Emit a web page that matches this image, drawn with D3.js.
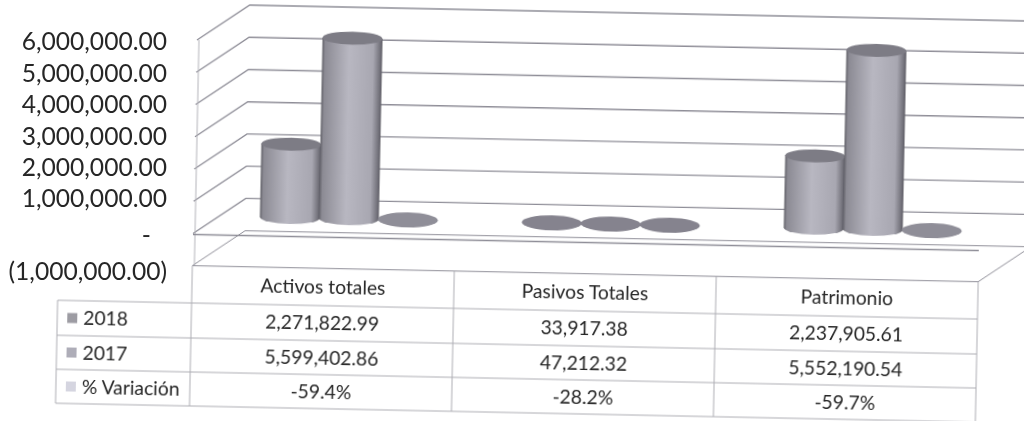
<!DOCTYPE html>
<html lang="en">
<head>
    <meta charset="UTF-8">
    <title>Activos, pasivos y patrimonio</title>
    <script src="https://d3js.org/d3.v7.min.js"></script>
    <style>
        html, body { margin: 0; padding: 0; background: #fff; overflow: hidden; }
        text { font-family: Lato, "Open Sans", sans-serif; fill: #262626; }
    </style>
</head>
<body>
    <div id="chart"></div>
    <script>
        // Chart data
        var categories = ["Activos totales", "Pasivos Totales", "Patrimonio"];
        var seriesNames = ["2018", "2017", "% Variación"];
        var values2018 = [2271822.99, 33917.38, 2237905.61];
        var values2017 = [5599402.86, 47212.32, 5552190.54];
        var variation = [-0.594, -0.282, -0.597];
        var axisTicks = [-1000000, 0, 1000000, 2000000, 3000000, 4000000, 5000000, 6000000];
        var swatchColors = ["#9d9ca3", "#aeadb8", "#d5d5e0"];

        var width = 1024, height = 421;
        var depthX = 52, depthY = -36;   // offset of the back wall

        var svg = d3.select("#chart").append("svg")
            .attr("width", width)
            .attr("height", height)
            .style("display", "block");

        var defs = svg.append("defs");
        defs.append("filter").attr("id", "scan")
            .append("feGaussianBlur").attr("stdDeviation", 0.45);

        var grad = defs.append("linearGradient").attr("id", "cyl");
        [[0, "#63626a"], [0.05, "#8c8b94"], [0.45, "#b8b7c1"], [0.85, "#a8a7b1"], [0.96, "#75747d"], [1, "#5c5b64"]]
            .forEach(function(s) {
                grad.append("stop").attr("offset", s[0]).attr("stop-color", s[1]);
            });

        // The scan is slightly tilted, the whole plot sits in a rotated group
        var plot = svg.append("g")
            .attr("filter", "url(#scan)")
            .attr("transform", "rotate(1.17,193,234)");

        var y = d3.scaleLinear().domain([-1000000, 6000000]).range([265.7, 40]);
        var x0 = d3.scaleBand().domain(categories).range([193, 979]);
        var x1 = d3.scaleBand().domain(seriesNames).range([-90, 87]);

        var lineColor = "#8f8e98";

        // Back wall gridlines, side wall and the zero plane
        axisTicks.forEach(function(t) {
            plot.append("path")
                .attr("d", d3.line()([
                    [x0.range()[0], y(t)],
                    [x0.range()[0] + depthX, y(t) + depthY],
                    [x0.range()[1] + depthX, y(t) + depthY]
                ]))
                .attr("fill", "none")
                .attr("stroke", lineColor)
                .attr("stroke-width", t === -1000000 ? 1 : 1.3);
        });
        plot.append("line")
            .attr("x1", x0.range()[0] + 2).attr("x2", x0.range()[0] + 2)
            .attr("y1", y(6000000)).attr("y2", y(-1000000))
            .attr("stroke", "#b4b4ba").attr("stroke-width", 1);
        plot.append("line")
            .attr("x1", x0.range()[0]).attr("x2", x0.range()[1])
            .attr("y1", y(0) + 1).attr("y2", y(0) + 1)
            .attr("stroke", lineColor).attr("stroke-width", 1.5);
        plot.append("line")
            .attr("x1", x0.range()[1]).attr("x2", x0.range()[1] + depthX)
            .attr("y1", y(-1000000)).attr("y2", y(-1000000) + depthY)
            .attr("stroke", lineColor).attr("stroke-width", 1);

        // Cylinders
        var rx = 30, ry = 6.5;
        var rows = [values2018, values2017, variation];
        var marks = [];
        categories.forEach(function(c, i) {
            seriesNames.forEach(function(s, j) {
                marks.push({category: c, series: s, value: rows[j][i]});
            });
        });

        var cyl = plot.selectAll("g.cyl").data(marks).enter().append("g")
            .attr("class", "cyl")
            .attr("transform", function(d) {
                var cx = x0(d.category) + x0.bandwidth() / 2 + depthX / 2 + x1(d.series) + x1.bandwidth() / 2;
                return "translate(" + cx + "," + (depthY / 2) + ")";
            });

        // Values close to zero only show as a flat disc
        function isFlat(d) { return y(0) - y(d.value) < 4; }

        cyl.filter(function(d) { return !isFlat(d); }).append("path")
            .attr("d", function(d) {
                return "M" + (-rx) + "," + y(d.value) +
                    "L" + (-rx) + "," + y(0) +
                    "A" + rx + "," + ry + " 0 0 0 " + rx + "," + y(0) +
                    "L" + rx + "," + y(d.value) + "Z";
            })
            .attr("fill", "url(#cyl)");

        cyl.append("ellipse")
            .attr("cx", 0)
            .attr("cy", function(d) { return isFlat(d) ? y(0) : y(d.value); })
            .attr("rx", rx)
            .attr("ry", function(d) { return isFlat(d) ? 7.5 : ry; })
            .attr("fill", function(d) {
                if (!isFlat(d)) return "#7d7c85";
                return d.category === categories[1] ? "#85838e" : "#8f8e98";
            });

        // Data table under the plot
        var tableRows = [y(-1000000), 303, 338, 372, 406];
        var legendLeft = 59;
        var tableColor = "#aeaeb4";

        tableRows.forEach(function(ry0, i) {
            plot.append("line")
                .attr("x1", i === 0 ? x0.range()[0] : legendLeft)
                .attr("x2", x0.range()[1])
                .attr("y1", ry0).attr("y2", ry0)
                .attr("stroke", i === 0 ? lineColor : tableColor)
                .attr("stroke-width", 1);
        });
        x0.domain().map(function(c) { return x0(c); }).concat([x0.range()[1]]).forEach(function(px) {
            plot.append("line")
                .attr("x1", px).attr("x2", px)
                .attr("y1", tableRows[0]).attr("y2", tableRows[4])
                .attr("stroke", tableColor).attr("stroke-width", 1);
        });
        plot.append("line")
            .attr("x1", legendLeft).attr("x2", legendLeft)
            .attr("y1", tableRows[1]).attr("y2", tableRows[4])
            .attr("stroke", tableColor).attr("stroke-width", 1);

        var fmt = d3.format(",.2f");
        var pct = function(v) { return d3.format(".1%")(v).replace("\u2212", "-"); };
        var cellSize = 19.3;

        categories.forEach(function(c, i) {
            var cx = x0(c) + x0.bandwidth() / 2;
            var cells = [c, fmt(values2018[i]), fmt(values2017[i]), pct(variation[i])];
            cells.forEach(function(label, r) {
                plot.append("text")
                    .attr("x", cx)
                    .attr("y", (tableRows[r] + tableRows[r + 1]) / 2)
                    .attr("dy", "0.35em")
                    .attr("text-anchor", "middle")
                    .style("font-size", cellSize + "px")
                    .text(label);
            });
        });

        seriesNames.forEach(function(s, i) {
            var mid = (tableRows[i + 1] + tableRows[i + 2]) / 2;
            plot.append("rect")
                .attr("x", 69).attr("y", mid - 5)
                .attr("width", 10).attr("height", 10)
                .attr("fill", swatchColors[i]);
            plot.append("text")
                .attr("x", 85).attr("y", mid)
                .attr("dy", "0.35em")
                .style("font-size", cellSize + "px")
                .text(s);
        });

        // Value axis labels, the scan spaces the lower ones a bit wider
        var labelY = d3.scaleLinear()
            .domain([-1000000, 0, 1000000, 6000000])
            .range([272, 236, 199, 42]);

        var axis = d3.axisLeft(labelY)
            .tickValues(axisTicks)
            .tickSize(0)
            .tickPadding(0)
            .tickFormat(function(d) {
                if (d === 0) return "-";
                return d < 0 ? "(" + fmt(-d) + ")" : fmt(d);
            });

        var axisG = svg.append("g")
            .attr("filter", "url(#scan)")
            .attr("transform", "translate(167,0)")
            .call(axis);
        axisG.select(".domain").remove();
        axisG.selectAll("text")
            .style("font-size", "24.6px")
            .style("fill", "#262626")
            .style("font-family", "Lato, 'Open Sans', sans-serif");
        axisG.selectAll(".tick")
            .filter(function(d) { return d === 0; })
            .select("text")
            .attr("x", -16);
    </script>
</body>
</html>
